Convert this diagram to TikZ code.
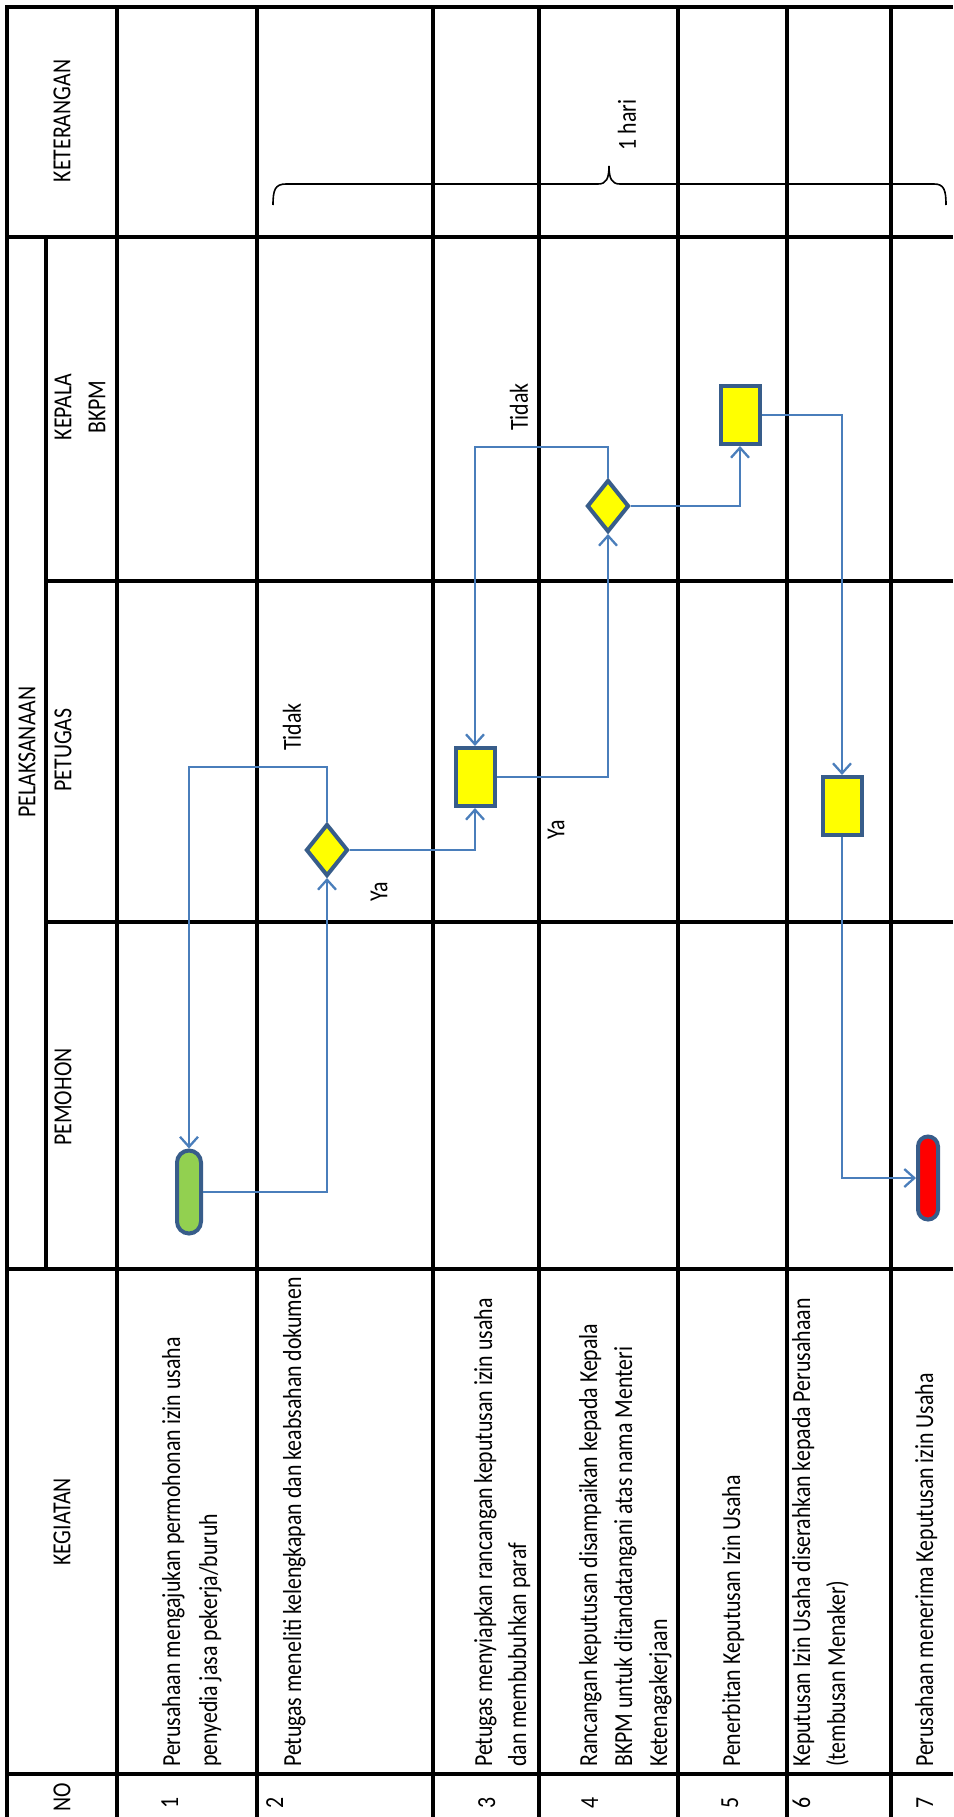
\documentclass[tikz,border=0pt]{standalone}
\usepackage{fontspec}
\setmainfont[FakeStretch=0.84]{Carlito}
\usetikzlibrary{shapes.geometric,arrows.meta}
\definecolor{connblue}{HTML}{4A7EBB}
\definecolor{shapeblue}{HTML}{385D8A}
\definecolor{termgreen}{HTML}{92D050}
\definecolor{termred}{HTML}{FF0000}
\definecolor{procyellow}{HTML}{FFFF00}
\begin{document}
\begin{tikzpicture}[x=1pt,y=-1pt,
  gridline/.style={line width=3.5pt, black},
  rowtxt/.style={rotate=90, anchor=base west, inner sep=0pt, font=\fontsize{26}{30}\selectfont},
  hdr/.style={rotate=90, anchor=center, inner sep=0pt, font=\fontsize{26}{30}\selectfont},
  proc/.style={rectangle, draw=shapeblue, line width=4pt, fill=procyellow, minimum width=39pt, minimum height=58pt, inner sep=0pt},
  dec/.style={diamond, draw=shapeblue, line width=4pt, fill=procyellow, minimum width=42pt, minimum height=52pt, inner sep=0pt},
  term/.style={rectangle, draw=shapeblue, line width=4pt, minimum height=83pt, inner sep=0pt},
  conn/.style={draw=connblue, line width=2.3pt, -{Straight Barb[length=10pt,width=18pt,line width=2.3pt]}},
  bracepath/.style={line width=1.6pt, black}
]
\useasboundingbox (0,0) rectangle (953,1817);
\fill[white] (0,0) rectangle (953,1817);

% ---- table grid ----
\draw[gridline] (7,7) -- (953,7);
\draw[gridline] (7,237) -- (953,237);
\draw[gridline] (46,581) -- (953,581);
\draw[gridline] (46,922) -- (953,922);
\draw[gridline] (7,1269) -- (953,1269);
\draw[gridline] (7,1774) -- (953,1774);
\draw[gridline] (7,5.25) -- (7,1817);
\draw[gridline] (46,237) -- (46,1269);
\foreach \xx in {117,257,433,539,678,787,891}
  \draw[gridline] (\xx,5.25) -- (\xx,1817);

% ---- header texts ----
\node[hdr] (hket) at (62,121) {KETERANGAN};
\node[hdr] (hpel) at (27,752) {PELAKSANAAN};
\node[hdr] (hkep1) at (63,407) {KEPALA};
\node[hdr] (hkep2) at (97,407) {BKPM};
\node[hdr] (hpet) at (63,750) {PETUGAS};
\node[hdr] (hpem) at (63,1097) {PEMOHON};
\node[hdr] (hkeg) at (62,1522) {KEGIATAN};
\node[hdr] (hno) at (62,1797) {NO};

% ---- row numbers ----
\node[rowtxt] (n1) at (178,1809) {1};
\node[rowtxt] (n2) at (283,1809) {2};
\node[rowtxt] (n3) at (495,1809) {3};
\node[rowtxt] (n4) at (598,1809) {4};
\node[rowtxt] (n5) at (738,1809) {5};
\node[rowtxt] (n6) at (810,1809) {6};
\node[rowtxt] (n7) at (933,1809) {7};

% ---- activity texts ----
\node[rowtxt] (k1a) at (180,1767) {Perusahaan mengajukan permohonan izin usaha};
\node[rowtxt] (k1b) at (217,1767) {penyedia jasa pekerja/buruh};
\node[rowtxt] (k2a) at (301,1767) {Petugas meneliti kelengkapan dan keabsahan dokumen};
\node[rowtxt] (k3a) at (492,1767) {Petugas menyiapkan rancangan keputusan izin usaha};
\node[rowtxt] (k3b) at (526,1767) {dan membubuhkan paraf};
\node[rowtxt] (k4a) at (597,1767) {Rancangan keputusan disampaikan kepada Kepala};
\node[rowtxt] (k4b) at (632,1767) {BKPM untuk ditandatangani atas nama Menteri};
\node[rowtxt] (k4c) at (667,1767) {Ketenagakerjaan};
\node[rowtxt] (k5a) at (740,1767) {Penerbitan Keputusan Izin Usaha};
\node[rowtxt] (k6a) at (810,1767) {Keputusan Izin Usaha diserahkan kepada Perusahaan};
\node[rowtxt] (k6b) at (845,1767) {(tembusan Menaker)};
\node[rowtxt] (k7a) at (933,1767) {Perusahaan menerima Keputusan izin Usaha};

% ---- flow shapes ----
\node[term, fill=termgreen, minimum width=24pt, rounded corners=12pt] (start) at (189,1192) {};
\node[dec] (d1) at (327,850) {};
\node[proc] (r3) at (475,777) {};
\node[dec] (d4) at (608,506) {};
\node[proc] (r5) at (740,415) {};
\node[proc] (r6) at (842,806) {};
\node[term, fill=termred, minimum width=20pt, rounded corners=10pt] (fin) at (928,1178) {};

% ---- connectors ----
\draw[conn] (start.east) -| (d1.south);
\draw[conn] (d1.north) -- ++(0,-55) -| (start.north);
\draw[conn] (d1.east) -| (r3.south);
\draw[conn] (r3.east) -| (d4.south);
\draw[conn] (d4.north) -- ++(0,-31) -| (r3.north);
\draw[conn] (d4.east) -| (r5.south);
\draw[conn] (r5.east) -| (r6.north);
\draw[conn] (r6.south) |- (fin.west);

% ---- labels ----
\node[hdr] (ltidak1) at (292,727) {Tidak};
\node[hdr] (lya1) at (379,892) {Ya};
\node[hdr] (ltidak2) at (519,407) {Tidak};
\node[hdr] (lya2) at (556,830) {Ya};

% ---- brace and duration ----
\draw[bracepath] (273,205) .. controls (273,190) and (275,184) .. (286,184) -- (598,184) .. controls (606,184) and (609,179) .. (609,166) .. controls (609,179) and (612,184) .. (620,184) -- (934,184) .. controls (944,184) and (946,190) .. (946,205);
\node[hdr] (lhari) at (627,125) {1 hari};
\end{tikzpicture}
\end{document}
